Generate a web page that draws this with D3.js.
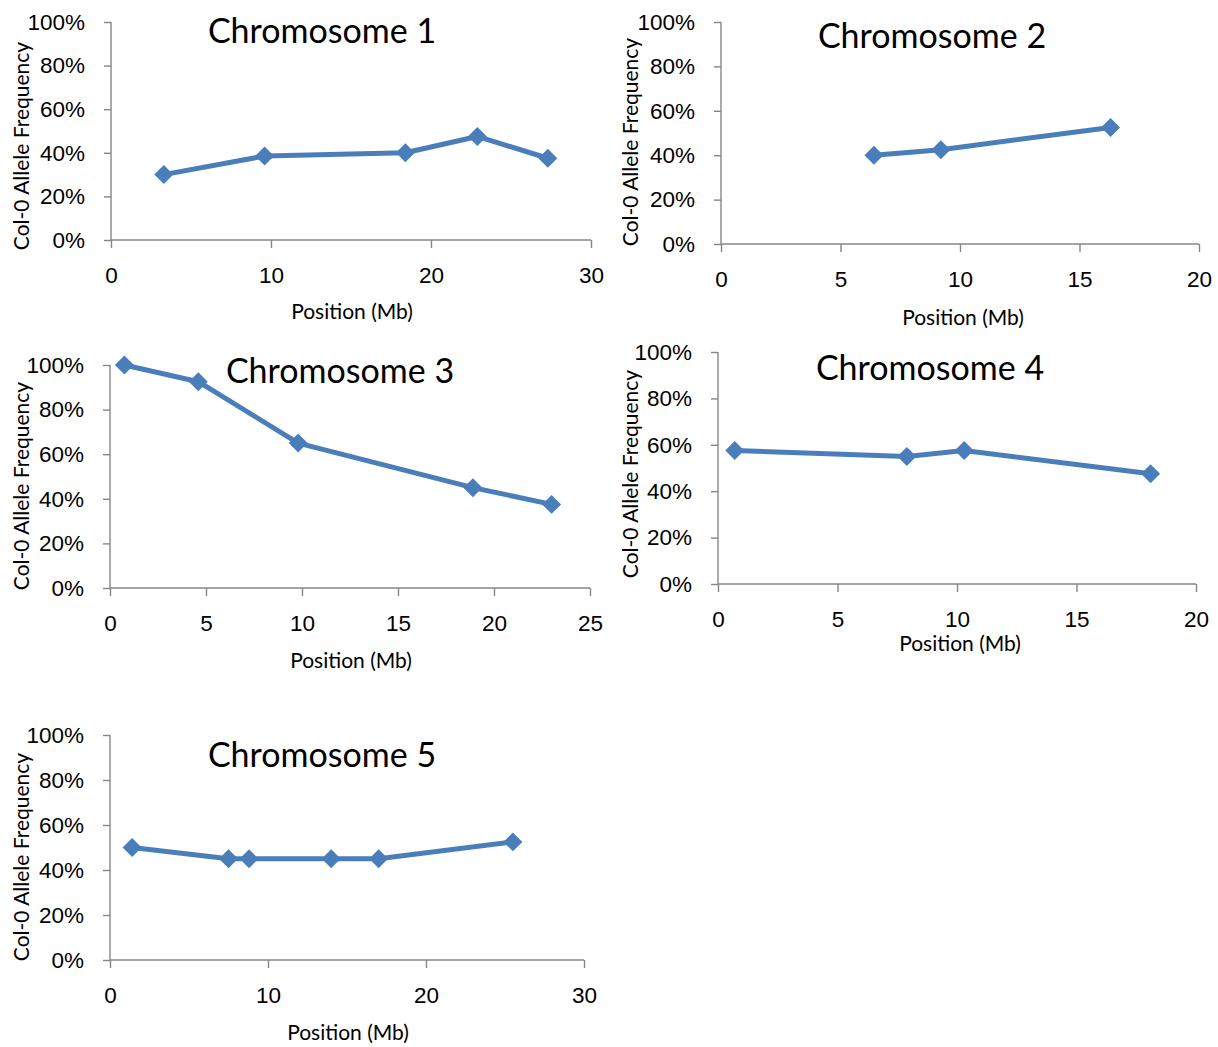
<!DOCTYPE html>
<html>
<head>
<meta charset="utf-8">
<script src="https://cdn.jsdelivr.net/npm/d3@7"></script>
<style>
  body { margin: 0; background: #fff; }
  svg { font-family: Lato, "Open Sans", sans-serif; }
</style>
</head>
<body>
<div id="chart"></div>
<script>
// Data (position in Mb, Col-0 allele frequency)
const chr1Pos = [3.3, 9.6, 18.4, 22.9, 27.3];
const chr1Freq = [0.30, 0.385, 0.40, 0.475, 0.375];

const chr2Pos = [6.4, 9.2, 16.3];
const chr2Freq = [0.40, 0.425, 0.525];

const chr3Pos = [0.75, 4.6, 9.8, 18.9, 23.0];
const chr3Freq = [1.00, 0.925, 0.65, 0.45, 0.375];

const chr4Pos = [0.7, 7.9, 10.3, 18.1];
const chr4Freq = [0.575, 0.55, 0.575, 0.475];

const chr5Pos = [1.4, 7.5, 8.8, 14.0, 17.0, 25.5];
const chr5Freq = [0.50, 0.45, 0.45, 0.45, 0.45, 0.525];

const titles = ["Chromosome 1", "Chromosome 2", "Chromosome 3", "Chromosome 4", "Chromosome 5"];
const xMaxes = [30, 20, 25, 20, 30];
const xSteps = [10, 5, 5, 5, 10];
const yTicks = [0, 0.2, 0.4, 0.6, 0.8, 1.0];
const xLabel = "Position (Mb)";
const yLabel = "Col-0 Allele Frequency";

const lineColor = "#4a7ebb";
const axisColor = "#868686";

// Layout of each panel (plot box, title and label placement)
const panels = [
    { pos: chr1Pos, freq: chr1Freq, left: 111, right: 591, top: 22, bottom: 240, titleX: 322, titleY: 43, xLabX: 352, xLabY: 319, yLabX: 29, yLabY: 146 },
    { pos: chr2Pos, freq: chr2Freq, left: 721, right: 1199, top: 22, bottom: 244, titleX: 932, titleY: 48, xLabX: 963, xLabY: 325, yLabX: 638, yLabY: 142 },
    { pos: chr3Pos, freq: chr3Freq, left: 110, right: 590, top: 365, bottom: 588, titleX: 340, titleY: 383, xLabX: 351, xLabY: 668, yLabX: 29, yLabY: 486 },
    { pos: chr4Pos, freq: chr4Freq, left: 718, right: 1196, top: 352, bottom: 584, titleX: 930, titleY: 380, xLabX: 960, xLabY: 651, yLabX: 638, yLabY: 474 },
    { pos: chr5Pos, freq: chr5Freq, left: 110, right: 584, top: 735, bottom: 960, titleX: 322, titleY: 767, xLabX: 348, xLabY: 1040, yLabX: 29, yLabY: 857 }
];

const svg = d3.select("#chart")
    .append("svg")
    .attr("width", 1218)
    .attr("height", 1047);

panels.forEach((p, i) => {
    const g = svg.append("g");

    const x = d3.scaleLinear().domain([0, xMaxes[i]]).range([p.left, p.right]);
    const y = d3.scaleLinear().domain([0, 1]).range([p.bottom, p.top]);

    const xAxis = d3.axisBottom(x)
        .tickValues(d3.range(0, xMaxes[i] + 0.001, xSteps[i]))
        .tickSize(8)
        .tickPadding(19)
        .tickFormat(d3.format("d"));

    const yAxis = d3.axisLeft(y)
        .tickValues(yTicks)
        .tickSize(7)
        .tickPadding(19)
        .tickFormat(d3.format(".0%"));

    const gx = g.append("g")
        .attr("transform", `translate(0,${p.bottom})`)
        .call(xAxis);

    const gy = g.append("g")
        .attr("transform", `translate(${p.left},0)`)
        .call(yAxis);

    [gx, gy].forEach(a => {
        a.select(".domain").attr("stroke", axisColor).attr("stroke-width", 1.4);
        a.selectAll(".tick line").attr("stroke", axisColor).attr("stroke-width", 1.4);
        a.selectAll(".tick text").attr("fill", "#000").style("font-size", "22.5px");
    });
    // axis path without the end caps
    gx.select(".domain").attr("d", `M${p.left},0H${p.right}`);
    gy.select(".domain").attr("d", `M0,${p.bottom}V${p.top}`);

    const line = d3.line()
        .x((d, k) => x(p.pos[k]))
        .y(d => y(d));

    g.append("path")
        .datum(p.freq)
        .attr("fill", "none")
        .attr("stroke", lineColor)
        .attr("stroke-width", 5)
        .attr("stroke-linejoin", "round")
        .attr("d", line);

    g.selectAll(".marker")
        .data(p.freq)
        .enter()
        .append("path")
        .attr("class", "marker")
        .attr("fill", lineColor)
        .attr("d", d3.symbol().type(d3.symbolSquare).size(180))
        .attr("transform", (d, k) => `translate(${x(p.pos[k])},${y(d)}) rotate(45)`);

    g.append("text")
        .attr("x", p.titleX)
        .attr("y", p.titleY)
        .style("text-anchor", "middle")
        .style("font-size", "34px")
        .text(titles[i]);

    g.append("text")
        .attr("x", p.xLabX)
        .attr("y", p.xLabY)
        .style("text-anchor", "middle")
        .style("font-size", "21px")
        .text(xLabel);

    g.append("text")
        .attr("transform", `translate(${p.yLabX},${p.yLabY}) rotate(-90)`)
        .style("text-anchor", "middle")
        .style("font-size", "21px")
        .text(yLabel);
});
</script>
</body>
</html>
